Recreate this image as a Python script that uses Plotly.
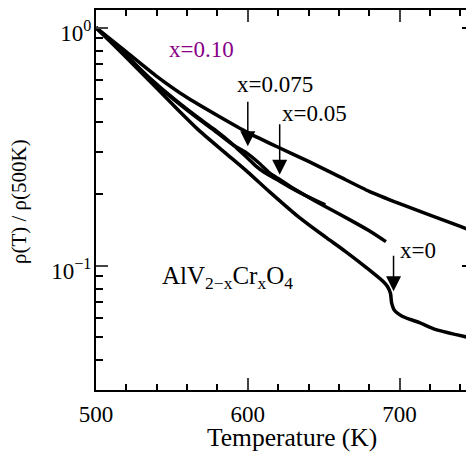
import numpy as np
import plotly.graph_objects as go

# ---- data ----
T_x010 = [500, 520, 540, 560, 580, 600, 620, 640, 660, 680, 700, 720, 740, 750]
rho_x010 = [1.0, 0.79, 0.624, 0.508, 0.427, 0.362, 0.314, 0.274, 0.237, 0.205, 0.182, 0.163, 0.146, 0.138]

T_x0075 = [500, 518, 535, 552, 568, 578, 591, 598, 605, 611, 618, 628, 638, 651]
rho_x0075 = [1.0, 0.785, 0.617, 0.498, 0.415, 0.373, 0.319, 0.290, 0.263, 0.246, 0.232, 0.213, 0.197, 0.180]

T_x005 = [500, 518, 535, 552, 568, 578, 591, 598, 607, 614, 620, 628, 638, 651, 667, 680, 691]
rho_x005 = [1.0, 0.778, 0.611, 0.494, 0.411, 0.369, 0.319, 0.301, 0.271, 0.246, 0.232, 0.215, 0.197, 0.177, 0.156, 0.140, 0.126]

T_x0 = [500, 518, 535, 552, 568, 585, 600, 614, 634, 651, 664, 680, 689, 692, 694, 694.7, 696.7, 702, 713, 724, 749]
rho_x0 = [1.0, 0.770, 0.599, 0.465, 0.369, 0.298, 0.247, 0.205, 0.159, 0.132, 0.115, 0.0959, 0.0859, 0.0817,
          0.0763, 0.0699, 0.0647, 0.0611, 0.0576, 0.0538, 0.0493]

x_ticks = [500, 600, 700]
y_major = [0.1, 1.0]
y_major_text = ["10<sup>\u22121</sup>", "10<sup>0</sup>"]
y_minor = [0.03, 0.04, 0.05, 0.06, 0.07, 0.08, 0.09, 0.2, 0.3, 0.4, 0.5, 0.6, 0.7, 0.8, 0.9]

# transition arrows: temperature, tip value, arrow length (px)
arrow_T = [600, 621, 696]
arrow_tip = [0.317, 0.241, 0.078]
arrow_len = [46, 52, 37]

FONT = "Liberation Serif, Times New Roman, Times, serif"
PURPLE = "#880088"

fig = go.Figure()
for T, r in [(T_x010, rho_x010), (T_x0075, rho_x0075), (T_x005, rho_x005), (T_x0, rho_x0)]:
    fig.add_trace(go.Scatter(x=T, y=r, mode="lines",
                             line=dict(color="black", width=3.5, shape="spline", smoothing=0.6),
                             showlegend=False, hoverinfo="skip"))
# invisible trace so that the right-hand tick axis is drawn
fig.add_trace(go.Scatter(x=[T_x010[0]], y=[rho_x010[0]], yaxis="y2", mode="markers",
                         marker=dict(opacity=0), showlegend=False, hoverinfo="skip"))

yrange = [np.log10(0.03), np.log10(1.185)]

annotations = [
    dict(text="x=0.10", x=0.278, y=0.897, xref="paper", yref="paper", showarrow=False,
         font=dict(family=FONT, size=23, color=PURPLE), xanchor="center", yanchor="middle"),
    dict(text="x=0.075", x=0.4735, y=0.805, xref="paper", yref="paper", showarrow=False,
         font=dict(family=FONT, size=23, color="black"), xanchor="center", yanchor="middle"),
    dict(text="x=0.05", x=0.579, y=0.728, xref="paper", yref="paper", showarrow=False,
         font=dict(family=FONT, size=23, color="black"), xanchor="center", yanchor="middle"),
    dict(text="x=0", x=0.852, y=0.368, xref="paper", yref="paper", showarrow=False,
         font=dict(family=FONT, size=23, color="black"), xanchor="center", yanchor="middle"),
    dict(text="AlV<sub>2\u2212x</sub>Cr<sub>x</sub>O<sub>4</sub>", x=0.169, y=0.297, xref="paper", yref="paper",
         showarrow=False, font=dict(family=FONT, size=25, color="black"), xanchor="left", yanchor="middle"),
    dict(text="\u03c1(T) / \u03c1(500K)", x=-0.204, y=0.497, xref="paper", yref="paper", showarrow=False,
         textangle=-90, font=dict(family=FONT, size=21, color="black"), xanchor="center", yanchor="middle"),
    dict(text="Temperature (K)", x=0.5185, y=-0.126, xref="paper", yref="paper", showarrow=False,
         font=dict(family=FONT, size=25.5, color="black"), xanchor="center", yanchor="middle"),
]
for T, tip, L in zip(arrow_T, arrow_tip, arrow_len):
    annotations.append(dict(text="", x=T, y=np.log10(tip), xref="x", yref="y", showarrow=True,
                            ax=0, ay=-L, arrowhead=2, arrowsize=2.0, arrowwidth=1.5, arrowcolor="black"))

# the page places the figure 8 px from the top-left corner; size and margins allow for that
fig.update_layout(
    width=466, height=445,
    margin=dict(l=88, r=0, t=2, b=63),
    paper_bgcolor="white", plot_bgcolor="white",
    font=dict(family=FONT, size=23, color="black"),
    xaxis=dict(range=[500, 749], tickvals=x_ticks, ticks="inside", ticklen=12, tickwidth=1.5,
               showline=True, linewidth=2, linecolor="black", mirror="ticks", showgrid=False,
               zeroline=False, ticklabelstandoff=2,
               tickfont=dict(family=FONT, size=23, color="black"),
               minor=dict(dtick=20, tick0=500, ticks="inside", ticklen=6, tickwidth=1.5, tickcolor="black",
                          showgrid=False)),
    yaxis=dict(type="log", range=yrange, tickmode="array", tickvals=y_major, ticktext=y_major_text,
               ticks="inside", ticklen=12, tickwidth=1.5, showline=True, linewidth=2, linecolor="black",
               mirror=False, showgrid=False, zeroline=False, ticklabelstandoff=-2, ticklabelshift=5,
               ticklabeloverflow="allow",
               tickfont=dict(family=FONT, size=23, color="black"),
               minor=dict(tickmode="array", tickvals=y_minor, ticks="inside", ticklen=7, tickwidth=1.5,
                          tickcolor="black", showgrid=False)),
    yaxis2=dict(type="log", range=yrange, overlaying="y", side="right", tickmode="array", tickvals=y_major,
                ticks="inside", ticklen=12, tickwidth=1.5, tickcolor="black", showline=False,
                showticklabels=False, showgrid=False, zeroline=False,
                minor=dict(tickmode="array", tickvals=y_minor, ticks="inside", ticklen=7, tickwidth=1.5,
                           tickcolor="black", showgrid=False)),
    annotations=annotations,
)

fig.write_html("out.html")
